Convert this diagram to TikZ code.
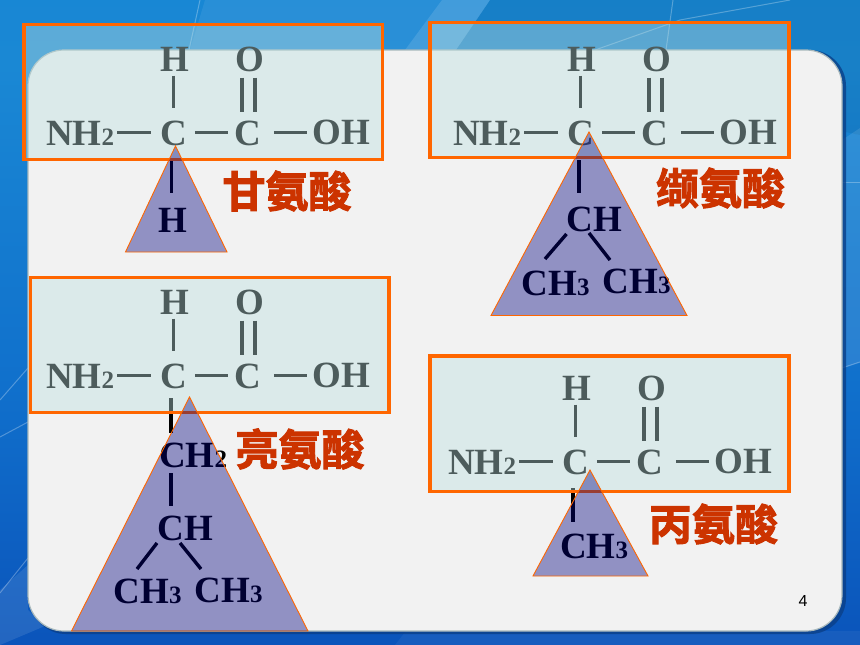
\documentclass[tikz,border=0pt]{standalone}
\usepackage{fontspec}
\setmainfont{Liberation Serif}
\newfontfamily\cjkbold[FakeBold=2.2]{Noto Sans CJK SC Bold}
\newfontfamily\pagenum{Liberation Sans}
\definecolor{boxedge}{HTML}{FF6600}
\definecolor{boxfill}{RGB}{188,224,224}
\definecolor{trifill}{RGB}{0,0,125}
\definecolor{labelred}{HTML}{CC3300}
\definecolor{bgA}{HTML}{1080D6}
\definecolor{bgB}{HTML}{1A88D4}
\definecolor{bgC}{HTML}{1070CC}
\definecolor{bgD}{HTML}{0A50B8}
\definecolor{bgE}{HTML}{0A38B0}
\definecolor{panelfill}{HTML}{F2F2F2}
\definecolor{paneledge}{HTML}{A8B8BC}
\definecolor{panelshadow}{HTML}{0A3F88}
\pgfdeclareverticalshading{slidebg}{100bp}{color(0bp)=(bgE); color(22bp)=(bgD); color(45bp)=(bgC); color(70bp)=(bgB); color(100bp)=(bgA)}
\newcommand{\lowd}[1]{{\fontsize{25}{25}\selectfont #1}}
\tikzset{
  x=1pt,y=-1pt,
  atom/.style={inner sep=0pt,outer sep=0pt,text height=25pt,text depth=0pt,anchor=base,text=black,
    font=\fontsize{37}{37}\selectfont\bfseries},
  bond/.style={draw=black,line width=3.4pt},
  subbond/.style={draw=black,line width=3.4pt},
  hl/.style={draw=boxedge,line width=3.4pt,fill=boxfill,fill opacity=.41},
  tri/.style={draw=boxedge,line width=.9pt,fill=trifill,fill opacity=.4},
  tag/.style={inner sep=0pt,outer sep=0pt,text=labelred,font=\fontsize{43}{43}\selectfont\cjkbold},
  streak/.style={draw=white,line width=1pt,opacity=.28},
}
% skeleton formula shared by the four amino acids
\newcommand{\amino}[3]{%
  \begin{scope}[shift={(#2,#3)}]
    \node[atom] (#1n)  at (80,145) {NH\lowd{2}};
    \node[atom] (#1c)  at (173.5,145) {C};
    \node[atom] (#1d)  at (247.5,145) {C};
    \node[atom] (#1oh) at (341.5,144) {OH};
    \node[atom] (#1h)  at (174.5,71.5) {H};
    \node[atom] (#1o)  at (249.5,71.5) {O};
    \draw[bond] ([xshift=3pt]#1n.east) -- ([xshift=-9pt]#1c.west);
    \draw[bond] ([xshift=8pt]#1c.east) -- ([xshift=-6pt]#1d.west);
    \draw[bond] ([xshift=13pt]#1d.east) -- ([xshift=-6pt]#1d.east -| #1oh.west);
    \draw[bond] ([xshift=-1pt,yshift=-4pt]#1h.south) -- ([xshift=-1pt,yshift=12pt]#1h.south |- #1c.north);
    \draw[bond] ([xshift=-7.5pt,yshift=-6pt]#1o.south) -- ([xshift=-7.5pt,yshift=8pt]#1o.south |- #1d.north);
    \draw[bond] ([xshift=5.5pt,yshift=-6pt]#1o.south) -- ([xshift=5.5pt,yshift=8pt]#1o.south |- #1d.north);
  \end{scope}}
\begin{document}
\begin{tikzpicture}
\useasboundingbox (0,0) rectangle (860,645);
% slide background
\shade[shading=slidebg] (0,0) rectangle (860,645);
\fill[white,opacity=.07] (205,0) -- (490,0) -- (456,50) -- (190,50) -- cycle;
\fill[white,opacity=.12] (442,0) -- (490,0) -- (456,50) -- (405,50) -- cycle;
\fill[black,opacity=.06] (490,0) -- (860,0) -- (860,135) -- (456,50) -- cycle;
\fill[white,opacity=.10] (842,140) -- (860,128) -- (860,362) -- (842,368) -- cycle;
\fill[white,opacity=.10] (0,590) -- (28,565) -- (28,610) -- (45,626) -- (0,645) -- cycle;
\fill[white,opacity=.05] (406,631) -- (860,631) -- (860,645) -- (395,645) -- cycle;
\draw[streak] (200,0) -- (189,50);
\draw[streak] (673,0) -- (666,50);
\draw[streak] (790,0) -- (680,20) -- (595,50);
\draw[streak] (0,400) -- (28,368);
\draw[streak] (0,437) -- (28,422);
\draw[streak] (0,593) -- (28,558);
\draw[streak] (842,182) -- (860,182);
\draw[streak] (842,368) -- (860,362);
\fill[panelshadow,opacity=.8,rounded corners=36pt] (30,50) rectangle (846,634);
\draw[draw=paneledge,fill=panelfill,line width=1.2pt,rounded corners=36pt] (28,50) rectangle (842,631);
\node[inner sep=0pt,text=black,font=\fontsize{16}{16}\selectfont\pagenum] (pageno) at (803,601) {4};
% formulas
\amino{a}{0}{0}
\amino{b}{407}{0}
\amino{c}{0}{243}
\amino{e}{402}{329}
% side chains
\node[atom] (aR) at (173,232) {H};
\draw[subbond] ([xshift=-2pt,yshift=-15pt]ac.south) -- ([xshift=-2pt,yshift=14pt]ac.south |- aR.north);
\node[atom] (bR) at (594.5,231.5) {CH};
\node[atom] (bL1) at (555.5,295) {CH\lowd{3}};
\node[atom] (bL2) at (636.5,293) {CH\lowd{3}};
\draw[subbond] ([xshift=-1.5pt,yshift=-15pt]bc.south) -- ([xshift=-1.5pt,yshift=13.5pt]bc.south |- bR.north);
\draw[subbond] ([xshift=-28pt,yshift=-2.5pt]bR.south) -- ([xshift=-10.5pt,yshift=11pt]bL1.north);
\draw[subbond] ([xshift=-5.5pt,yshift=-1.5pt]bR.south) -- ([xshift=-26.5pt,yshift=8pt]bL2.north);
\node[atom] (cR1) at (193,467) {CH\lowd{2}};
\node[atom] (cR2) at (185.5,540) {CH};
\node[atom] (cL1) at (147.5,603) {CH\lowd{3}};
\node[atom] (cL2) at (228.5,602) {CH\lowd{3}};
\draw[subbond] ([xshift=-2.5pt,yshift=-10pt]cc.south) -- ([xshift=-2.5pt,yshift=9pt]cc.south |- cR1.north);
\draw[subbond] ([xshift=-2.5pt,yshift=-6pt]cR1.south -| cc.south) -- ([xshift=-2.5pt,yshift=9pt]cc.south |- cR2.north);
\draw[subbond] ([xshift=-28.5pt,yshift=-3pt]cR2.south) -- ([xshift=-10.5pt,yshift=9pt]cL1.north);
\draw[subbond] ([xshift=-5.5pt,yshift=-3pt]cR2.south) -- ([xshift=-27.5pt,yshift=8pt]cL2.north);
\node[atom] (eR) at (594,558) {CH\lowd{3}};
\draw[subbond] ([xshift=-2.5pt,yshift=-14pt]ec.south) -- ([xshift=-2.5pt,yshift=11pt]ec.south |- eR.north);
% highlight boxes over the text
\draw[hl] (24,24.5) rectangle (382.7,159.7);
\draw[hl] (430,22.7) rectangle (789,157.7);
\draw[hl] (30.3,277.3) rectangle (389,412.7);
\draw[hl] (430,356) rectangle (789,491.7);
% triangles over the boxes
\draw[tri] (175.5,146) -- (227,252) -- (125.5,252) -- cycle;
\draw[tri] (589,132) -- (687,315.5) -- (491,315.5) -- cycle;
\draw[tri] (189.5,397) -- (308,631) -- (71.5,631) -- cycle;
\draw[tri] (590,470) -- (648,576) -- (533,576) -- cycle;
% names
\node[tag] (ta) at (287,191) {甘氨酸};
\node[tag] (tb) at (720.5,188) {缬氨酸};
\node[tag] (tc) at (300,449) {亮氨酸};
\node[tag] (te) at (713.5,524) {丙氨酸};
\end{tikzpicture}
\end{document}
